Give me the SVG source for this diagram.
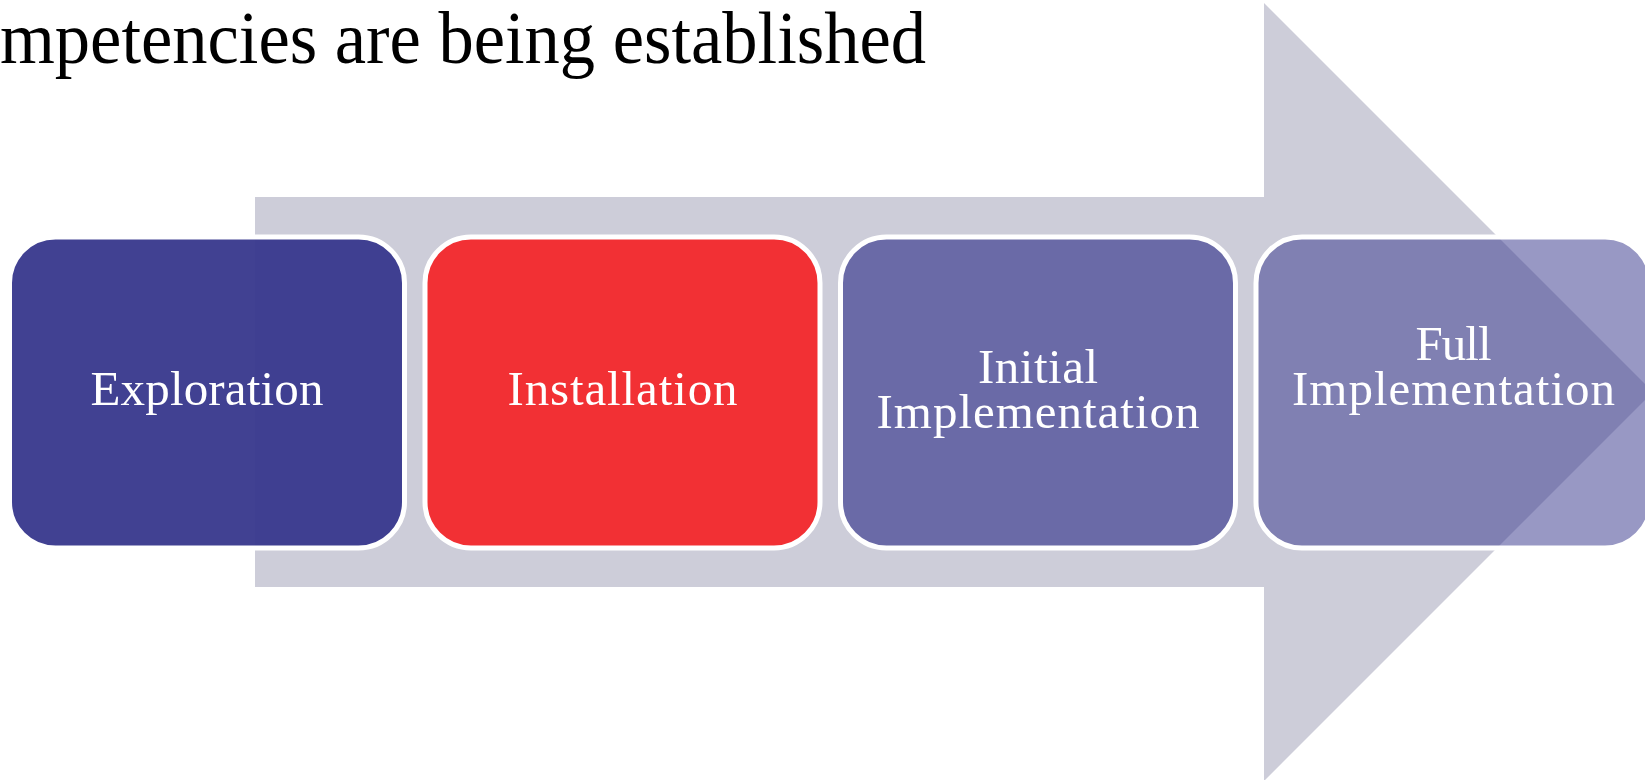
<svg xmlns="http://www.w3.org/2000/svg" width="1645" height="780" viewBox="0 0 1645 780">
  <style>
    .title { font-family: "Liberation Serif", "Times New Roman", serif; font-size: 75px; fill: #000000; }
    .box { stroke: #ffffff; stroke-width: 5; }
    .lbl { font-family: "Liberation Serif", "Times New Roman", serif; font-size: 49px; fill: #ffffff; text-anchor: middle; }
  </style>
  <rect x="0" y="0" width="1645" height="780" fill="#ffffff"/>

  <!-- heading line -->
  <text class="title" x="0" y="63" textLength="926" lengthAdjust="spacingAndGlyphs">mpetencies are being established</text>

  <!-- background process arrow -->
  <g id="connectors">
    <polygon points="255,197 1264,197 1264,3 1653,392 1264,781 1264,587 255,587" fill="#cdcdd9"/>
  </g>

  <g id="exploration">
    <rect class="box" x="9.5" y="237" width="395" height="311" rx="46" ry="46" fill="#39398e" fill-opacity="0.96"/>
    <text class="lbl" x="207" y="405" textLength="233" lengthAdjust="spacing">Exploration</text>
  </g>

  <g id="installation">
    <rect class="box" x="425" y="237" width="395" height="311" rx="46" ry="46" fill="#f23034"/>
    <text class="lbl" x="622.5" y="405" textLength="230" lengthAdjust="spacing">Installation</text>
  </g>

  <g id="initial-implementation">
    <rect class="box" x="840.5" y="237" width="395" height="311" rx="46" ry="46" fill="#39398e" fill-opacity="0.67"/>
    <text class="lbl" x="1038" y="383" textLength="120" lengthAdjust="spacing">Initial</text>
    <text class="lbl" x="1038" y="428" textLength="323" lengthAdjust="spacing">Implementation</text>
  </g>

  <g id="full-implementation">
    <rect class="box" x="1256" y="237" width="395" height="311" rx="46" ry="46" fill="#39398e" fill-opacity="0.52"/>
    <text class="lbl" x="1453.5" y="360" textLength="76" lengthAdjust="spacing">Full</text>
    <text class="lbl" x="1453.5" y="405" textLength="323" lengthAdjust="spacing">Implementation</text>
  </g>
</svg>
